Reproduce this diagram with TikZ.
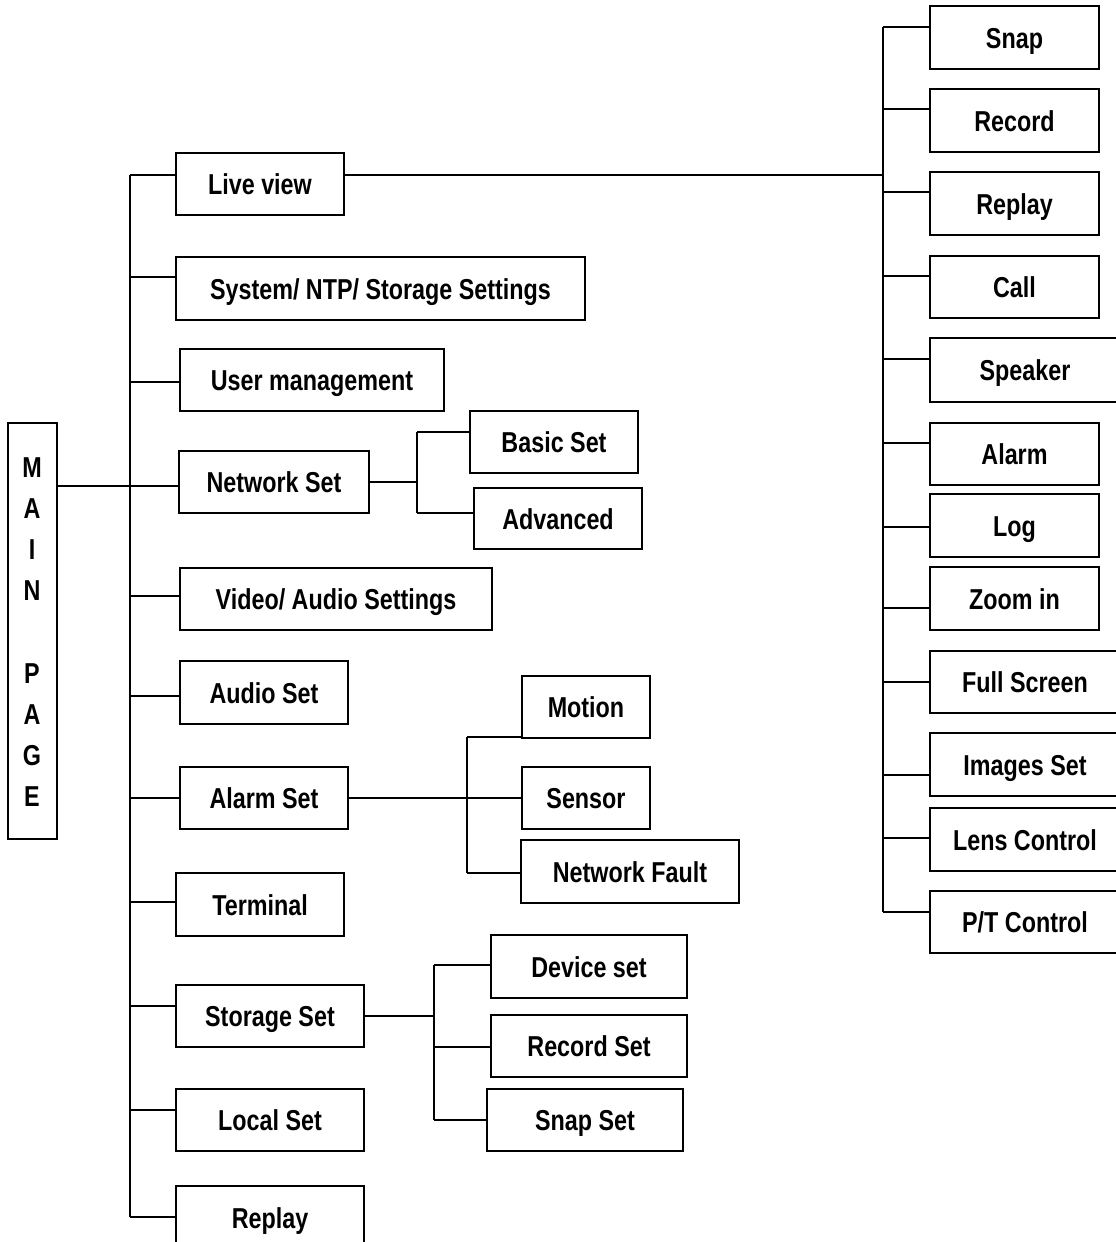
\documentclass[tikz,border=0pt]{standalone}
\usepackage{fontspec}
\setmainfont{Liberation Sans}[FakeStretch=0.81]
\begin{document}
\begin{tikzpicture}[x=0.5pt,y=-0.5pt,
    box/.style={draw, line width=1pt, inner sep=0pt, text height=10.5pt, text depth=0pt,
        font=\fontsize{14.4}{17}\selectfont\bfseries},
    link/.style={line width=1pt}]
\useasboundingbox (0,0) rectangle (1115,1242);
% main page
\node[draw, line width=1pt, minimum width=24.5pt, minimum height=208pt] (main) at (32,631) {};
\node[align=center, inner sep=0pt, font=\fontsize{14.4}{20.6}\selectfont\bfseries]
    (mainlbl) at (32,632) {M\\A\\I\\N\\[20.6pt]P\\A\\G\\E};
% boxes: name/text/left/right/top/bottom
\foreach \n/\t/\a/\b/\c/\d in {
    live/Live view/176/344/153/215,
    sys/{System/ NTP/ Storage Settings}/176/585/257/320,
    user/User management/180/444/349/411,
    net/Network Set/179/369/451/513,
    video/{Video/ Audio Settings}/180/492/568/630,
    audio/Audio Set/180/348/661/724,
    alarm/Alarm Set/180/348/767/829,
    term/Terminal/176/344/873/936,
    stor/Storage Set/176/364/985/1047,
    local/Local Set/176/364/1089/1151,
    replay/Replay/176/364/1186/1250,
    basic/Basic Set/470/638/411/473,
    adv/Advanced/474/642/488/549,
    motion/Motion/522/650/676/738,
    sensor/Sensor/522/650/767/829,
    nfault/Network Fault/521/739/840/903,
    dev/Device set/491/687/935/998,
    recset/Record Set/491/687/1015/1077,
    snapset/Snap Set/487/683/1089/1151,
    snap/Snap/930/1099/6/69,
    rec/Record/930/1099/89/152,
    rplay/Replay/930/1099/172/235,
    call/Call/930/1099/256/318,
    spk/Speaker/930/1120/338/402,
    alrm/Alarm/930/1099/423/485,
    log/Log/930/1099/494/557,
    zoom/Zoom in/930/1099/567/630,
    full/Full Screen/930/1120/651/713,
    img/Images Set/930/1120/733/796,
    lens/Lens Control/930/1120/808/871,
    pt/{P/T Control}/930/1120/891/953}
  \node[box, minimum width={(\b-\a)*0.5pt}, minimum height={(\d-\c)*0.5pt}]
    (\n) at ({(\a+\b)/2},{(\c+\d)/2}) {\t};
% left trunk
\coordinate (ttop) at (130,175);
\coordinate (tbot) at (130,1217);
\draw[link] (ttop) -- (tbot);
\foreach \n/\y in {live/175, sys/277, user/382, net/486, video/596, audio/696,
    alarm/798, term/902, stor/1006, local/1110, replay/1217} {
  \coordinate (t-\n) at (130,\y);
  \draw[link] (t-\n) -- (t-\n -| \n.west);
}
\draw[link] (main.east |- t-net) -- (t-net);
% right trunk
\coordinate (rtop) at (883,27);
\coordinate (rbot) at (883,912);
\draw[link] (rtop) -- (rbot);
\draw[link] (live.east |- ttop) -- (rtop |- ttop);
\foreach \n/\y in {snap/27, rec/109, rplay/192, call/276, spk/359, alrm/443,
    log/527, zoom/608, full/682, img/775, lens/838, pt/912} {
  \coordinate (r-\n) at (883,\y);
  \draw[link] (r-\n) -- (r-\n -| \n.west);
}
% network set
\coordinate (ntop) at (417,432);
\coordinate (nbot) at (417,513);
\draw[link] (ntop) -- (nbot);
\draw[link] (net.east) -- (net.east -| ntop);
\draw[link] (ntop) -- (ntop -| basic.west);
\draw[link] (nbot) -- (nbot -| adv.west);
% alarm set
\coordinate (atop) at (467,737);
\coordinate (abot) at (467,873);
\draw[link] (atop) -- (abot);
\draw[link] (alarm.east) -- (alarm.east -| sensor.west);
\draw[link] (atop) -- (atop -| motion.west);
\draw[link] (abot) -- (abot -| nfault.west);
% storage set
\coordinate (stop) at (434,965);
\coordinate (smid) at (434,1047);
\coordinate (sbot) at (434,1120);
\draw[link] (stop) -- (sbot);
\draw[link] (stor.east) -- (stor.east -| stop);
\draw[link] (stop) -- (stop -| dev.west);
\draw[link] (smid) -- (smid -| recset.west);
\draw[link] (sbot) -- (sbot -| snapset.west);
\end{tikzpicture}
\end{document}
